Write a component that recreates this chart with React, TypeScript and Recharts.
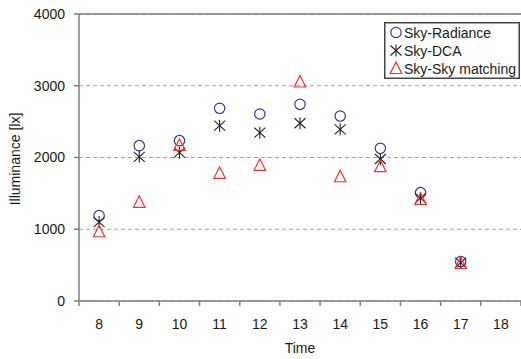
import { ScatterChart, Scatter, XAxis, YAxis, CartesianGrid, ReferenceLine, Legend } from 'recharts';

const hours = [8, 9, 10, 11, 12, 13, 14, 15, 16, 17];
const xTicks = [8, 9, 10, 11, 12, 13, 14, 15, 16, 17, 18];
const yTicks = [0, 1000, 2000, 3000, 4000];

const skyRadiance = [1190, 2165, 2235, 2686, 2606, 2741, 2578, 2128, 1510, 550];
const skyDca = [1100, 2010, 2067, 2443, 2346, 2477, 2393, 1979, 1435, 535];
const skySkyMatching = [965, 1375, 2170, 1780, 1891, 3052, 1732, 1872, 1415, 525];

const W = 521;
const H = 359;
const PLOT_LEFT = 79;
const PLOT_RIGHT = 521;
const PLOT_BOTTOM = 301;
const HALF_BAND = (PLOT_RIGHT - PLOT_LEFT) / xTicks.length / 2;

const BLUE = '#35359c';
const STAR = '#222222';
const RED = '#ff2a2a';
const TEXT = '#1a1a1a';
const AXIS = '#808080';
const FONT = 'Arial, "Liberation Sans", sans-serif';

const toPoints = (values: number[]) => hours.map((h, i) => ({ time: h, value: values[i] }));

function CircleMark({ cx, cy }: any) {
  return <circle cx={cx} cy={cy} r={5.2} fill="none" stroke={BLUE} strokeWidth={1.2} />;
}

function StarMark({ cx, cy }: any) {
  return (
    <g stroke={STAR} strokeWidth={1.1}>
      <line x1={cx} y1={cy - 6} x2={cx} y2={cy + 6} />
      <line x1={cx - 5.5} y1={cy - 5} x2={cx + 5.5} y2={cy + 5} />
      <line x1={cx - 5.5} y1={cy + 5} x2={cx + 5.5} y2={cy - 5} />
    </g>
  );
}

function TriangleMark({ cx, cy }: any) {
  return (
    <polygon
      points={`${cx},${cy - 6.5} ${cx - 5.7},${cy + 5} ${cx + 5.7},${cy + 5}`}
      fill="none"
      stroke={RED}
      strokeWidth={1.2}
    />
  );
}

// hour labels sit in the middle of each band, tick marks on the band edges
function HourTick({ x, y, payload, index }: any) {
  const last = index === xTicks.length - 1;
  return (
    <g>
      <line x1={x - HALF_BAND} y1={y} x2={x - HALF_BAND} y2={y + 5} stroke={AXIS} strokeWidth={1.5} />
      {last && <line x1={x + HALF_BAND} y1={y} x2={x + HALF_BAND} y2={y + 5} stroke={AXIS} strokeWidth={1.5} />}
      <text x={x} y={y + 28} textAnchor="middle" fontSize={14} fill={TEXT} fontFamily={FONT}>
        {payload.value}
      </text>
    </g>
  );
}

function LegendBox() {
  const rows = [
    { label: 'Sky-Radiance', Mark: CircleMark },
    { label: 'Sky-DCA', Mark: StarMark },
    { label: 'Sky-Sky matching', Mark: TriangleMark },
  ];
  return (
    <svg width={136} height={57} style={{ display: 'block' }}>
      <rect x={0.75} y={0.75} width={134.5} height={55.5} fill="#fff" stroke="#444" strokeWidth={1.5} />
      {rows.map((r, i) => (
        <g key={r.label}>
          <r.Mark cx={12} cy={10.5 + i * 18} />
          <text x={20} y={15.5 + i * 18} fontSize={14} fill={TEXT} fontFamily={FONT}>
            {r.label}
          </text>
        </g>
      ))}
    </svg>
  );
}

export default function App() {
  return (
    <div style={{ position: 'absolute', left: 0, top: 0, width: W, height: H, background: '#fff' }}>
      <ScatterChart width={W} height={H} margin={{ top: 14, right: 0, bottom: 0, left: 0 }} style={{ fontFamily: FONT }}>
        <CartesianGrid vertical={false} stroke="#a0a0a0" strokeDasharray="4 3" />
        <ReferenceLine y={4000} stroke={AXIS} strokeWidth={1.5} />
        <XAxis
          type="number"
          dataKey="time"
          domain={[7.5, 18.5]}
          ticks={xTicks}
          interval={0}
          height={H - PLOT_BOTTOM}
          tickLine={false}
          tickSize={0}
          tickMargin={0}
          tick={<HourTick />}
          axisLine={{ stroke: AXIS, strokeWidth: 1.5 }}
          label={() => (
            <text x={300} y={353} textAnchor="middle" fontSize={14} fill={TEXT} fontFamily={FONT}>
              Time
            </text>
          )}
        />
        <YAxis
          type="number"
          dataKey="value"
          domain={[0, 4000]}
          ticks={yTicks}
          interval={0}
          width={PLOT_LEFT}
          tickSize={5}
          tickMargin={9}
          tickLine={{ stroke: AXIS, strokeWidth: 1.5 }}
          axisLine={{ stroke: AXIS, strokeWidth: 1.5 }}
          tick={{ fontSize: 14, fill: TEXT, fontFamily: FONT }}
          label={() => (
            <text
              x={15}
              y={159}
              transform="rotate(-90 15 159)"
              textAnchor="middle"
              dominantBaseline="central"
              fontSize={14}
              fill={TEXT}
              fontFamily={FONT}
            >
              Illuminance [lx]
            </text>
          )}
        />
        <Legend
          layout="horizontal"
          verticalAlign="middle"
          align="center"
          wrapperStyle={{ left: 384, top: 22, width: 136, height: 57 }}
          content={() => <LegendBox />}
        />
        <Scatter name="Sky-Radiance" data={toPoints(skyRadiance)} shape={<CircleMark />} isAnimationActive={false} />
        <Scatter name="Sky-DCA" data={toPoints(skyDca)} shape={<StarMark />} isAnimationActive={false} />
        <Scatter name="Sky-Sky matching" data={toPoints(skySkyMatching)} shape={<TriangleMark />} isAnimationActive={false} />
      </ScatterChart>
    </div>
  );
}
